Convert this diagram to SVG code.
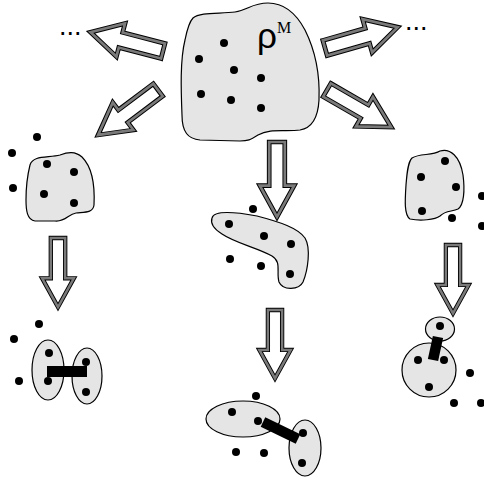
<svg xmlns="http://www.w3.org/2000/svg" width="484" height="481" viewBox="0 0 484 481">
<style>
.blob{fill:#e5e5e5;stroke:#000;stroke-width:1.2}
.dot{fill:#000}
.ao{fill:#fff;stroke:#000;stroke-width:4.5;stroke-linejoin:miter}
.ai{fill:none;stroke:#7a7a7a;stroke-width:2.6;stroke-linejoin:miter}
.bar{stroke:#000;stroke-width:10.5;stroke-linecap:butt}
.dots{font-family:"Liberation Sans",Arial,sans-serif;font-size:27px}
</style>
<defs>
<polygon id="arr" points="0,-7.5 42,-7.5 42,-16.5 72,0 42,16.5 42,7.5 0,7.5"/>
<g id="harr"><use href="#arr" class="ao"/><use href="#arr" class="ai"/></g>
</defs>
<rect width="484" height="481" fill="#fff"/>

<g id="connectors">
<use href="#harr" transform="translate(163,51) rotate(194.6) scale(1.04)"/>
<use href="#harr" transform="translate(158,90) rotate(143.1) scale(1.04)"/>
<use href="#harr" transform="translate(325,48) rotate(-16) scale(1.05)"/>
<use href="#harr" transform="translate(327,90) rotate(30) scale(1.03)"/>
<use href="#harr" transform="translate(277,142) rotate(90) scale(1.04)"/>
<use href="#harr" transform="translate(58,238) rotate(90) scale(0.96)"/>
<use href="#harr" transform="translate(275,310) rotate(90) scale(0.95)"/>
<use href="#harr" transform="translate(453,245) rotate(90) scale(0.95)"/>
</g>

<g id="ellipsis-left"><text class="dots" x="59" y="35">...</text></g>
<g id="ellipsis-right"><text class="dots" x="405" y="30">...</text></g>

<g id="rhoM">
<path class="blob" d="M193,18 C200,12 220,14 235,12 C248,10 252,3 268,3 C285,3 297,15 305,30 C315,50 320,75 319,100 C318,118 312,128 300,130 C285,132 270,128 258,135 C250,140 248,141 240,141 L200,140 C188,139 182,132 182,115 C181,90 180,60 185,40 C187,30 189,22 193,18 Z"/>
<circle class="dot" cx="224" cy="43" r="4"/>
<circle class="dot" cx="199" cy="59" r="4"/>
<circle class="dot" cx="234" cy="70" r="4"/>
<circle class="dot" cx="261" cy="78" r="4"/>
<circle class="dot" cx="201" cy="94" r="4"/>
<circle class="dot" cx="231" cy="100" r="4"/>
<circle class="dot" cx="261" cy="108" r="4"/>
<text x="257" y="48" font-family="Liberation Sans,Arial,sans-serif" font-size="35">ρ</text>
<text x="277" y="33" font-family="Liberation Serif,Times New Roman,serif" font-size="16">M</text>
</g>

<g id="left-blob">
<path class="blob" d="M30,165 C33,155 48,158 60,155 C68,152 75,151 82,157 C92,167 95,185 94,205 C93,213 85,212 76,213 C68,214 66,222 55,221 L35,221 C27,220 26,210 26,200 C26,185 28,173 30,165 Z"/>
<circle class="dot" cx="47" cy="164" r="4"/>
<circle class="dot" cx="74" cy="172" r="4"/>
<circle class="dot" cx="44" cy="194" r="4"/>
<circle class="dot" cx="74" cy="203" r="4"/>
<circle class="dot" cx="37" cy="137" r="4"/>
<circle class="dot" cx="12" cy="153" r="4"/>
<circle class="dot" cx="13" cy="188" r="4"/>
</g>

<g id="middle-blob">
<path class="blob" d="M212,218 C214,210 235,212 257,216 C280,222 298,228 305,238 C311,248 308,270 303,282 C299,290 283,291 279,282 C276,272 282,262 272,256 C258,248 235,243 222,234 C214,229 210,224 212,218 Z"/>
<circle class="dot" cx="253" cy="209" r="4"/>
<circle class="dot" cx="229" cy="224" r="4"/>
<circle class="dot" cx="264" cy="236" r="4"/>
<circle class="dot" cx="291" cy="244" r="4"/>
<circle class="dot" cx="230" cy="259" r="4"/>
<circle class="dot" cx="261" cy="266" r="4"/>
<circle class="dot" cx="290" cy="274" r="4"/>
</g>

<g id="right-blob">
<path class="blob" d="M412,158 C420,153 432,156 440,151 C450,148 460,156 463,175 C465,190 464,205 458,209 C452,212 446,210 440,216 C435,220 420,221 410,219 C404,215 405,200 406,185 C407,172 408,162 412,158 Z"/>
<circle class="dot" cx="445" cy="161" r="4"/>
<circle class="dot" cx="421" cy="177" r="4"/>
<circle class="dot" cx="456" cy="187" r="4"/>
<circle class="dot" cx="422" cy="211" r="4"/>
<circle class="dot" cx="452" cy="218" r="4"/>
<circle class="dot" cx="482" cy="196" r="4"/>
<circle class="dot" cx="482" cy="226" r="4"/>
</g>

<g id="left-pair">
<ellipse class="blob" cx="48" cy="370" rx="16" ry="30"/>
<ellipse class="blob" cx="87" cy="376" rx="15" ry="28"/>
<rect x="47" y="366" width="40" height="11" fill="#000"/>
<circle class="dot" cx="49" cy="353" r="4"/>
<circle class="dot" cx="48" cy="381" r="4"/>
<circle class="dot" cx="86" cy="362" r="4"/>
<circle class="dot" cx="86" cy="392" r="4"/>
<circle class="dot" cx="39" cy="324" r="4"/>
<circle class="dot" cx="14" cy="339" r="4"/>
<circle class="dot" cx="19" cy="381" r="4"/>
</g>

<g id="middle-pair">
<ellipse class="blob" cx="243" cy="419" rx="37" ry="18"/>
<ellipse class="blob" cx="305" cy="448" rx="16" ry="28"/>
<line class="bar" x1="263" y1="422" x2="298" y2="439"/>
<circle class="dot" cx="232" cy="412" r="4"/>
<circle class="dot" cx="258" cy="421" r="4"/>
<circle class="dot" cx="303" cy="433" r="4"/>
<circle class="dot" cx="302" cy="463" r="4"/>
<circle class="dot" cx="256" cy="396" r="4"/>
<circle class="dot" cx="236" cy="452" r="4"/>
<circle class="dot" cx="264" cy="453" r="4"/>
</g>

<g id="right-pair">
<ellipse class="blob" cx="440" cy="329" rx="14.5" ry="12"/>
<circle class="blob" cx="429" cy="370" r="27"/>
<line class="bar" x1="438" y1="337" x2="433" y2="360"/>
<circle class="dot" cx="440" cy="326" r="4"/>
<circle class="dot" cx="418" cy="360" r="4"/>
<circle class="dot" cx="444" cy="360" r="4"/>
<circle class="dot" cx="429" cy="387" r="4"/>
<circle class="dot" cx="470" cy="373" r="4"/>
<circle class="dot" cx="454" cy="403" r="4"/>
<circle class="dot" cx="481" cy="403" r="4"/>
</g>
</svg>
